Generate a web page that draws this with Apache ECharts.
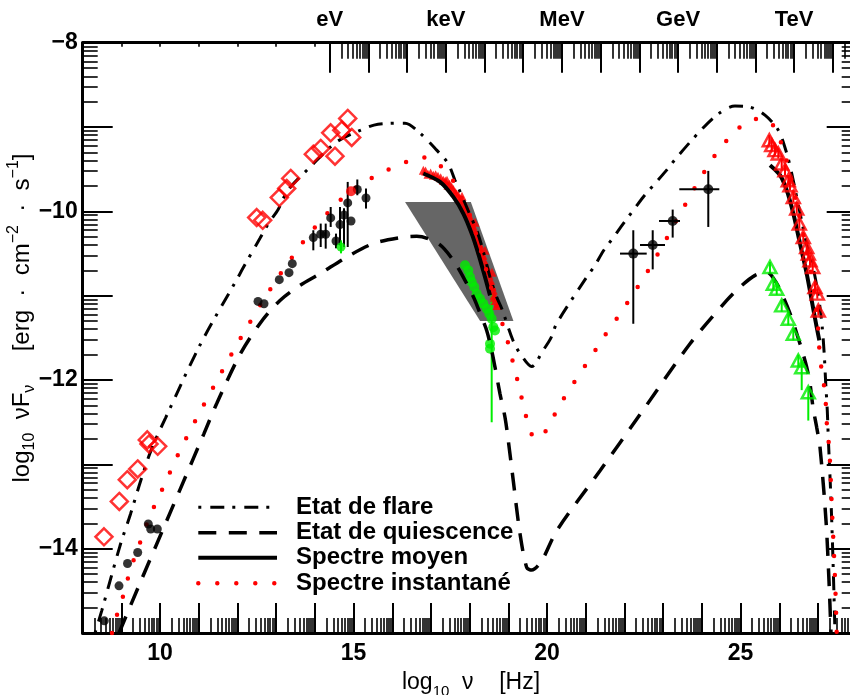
<!DOCTYPE html>
<html><head><meta charset="utf-8">
<script src="https://cdn.jsdelivr.net/npm/echarts@6/dist/echarts.min.js"></script>
<style>html,body{margin:0;padding:0;background:#fff}#c{width:850px;height:695px}</style>
</head><body><div id="c"></div>
<script>
// ---------- curves (log10 nu [Hz], log10 nuFnu) ----------
const flareCurve = [[8.318,-15.0],[8.491,-14.737],[8.964,-13.966],[9.240,-13.582],[9.499,-13.194],[9.783,-12.814],[10.145,-12.445],[11.031,-11.585],[11.979,-10.810],[12.150,-10.667],[12.581,-10.319],[12.788,-10.152],[13.054,-9.975],[13.305,-9.749],[13.873,-9.476],[14.563,-9.176],[15.243,-9.025],[15.630,-8.966],[16.328,-8.954],[16.716,-9.073],[17.147,-9.274],[17.439,-9.429],[17.620,-9.631],[17.793,-9.809],[17.956,-9.987],[18.181,-10.224],[18.344,-10.462],[18.525,-10.779],[18.698,-11.017],[18.827,-11.151],[19.119,-11.531],[19.300,-11.685],[19.602,-11.840],[19.894,-11.650],[20.093,-11.507],[20.248,-11.329],[20.979,-10.810],[21.238,-10.640],[21.452,-10.470],[21.711,-10.311],[21.969,-10.145],[22.227,-9.987],[22.486,-9.829],[22.788,-9.670],[23.072,-9.520],[23.349,-9.361],[23.951,-9.049],[24.416,-8.847],[24.855,-8.752],[25.243,-8.764],[25.630,-8.859],[25.974,-9.037],[26.191,-9.310],[26.320,-9.548],[26.483,-9.904],[26.612,-10.189],[26.742,-10.462],[26.871,-10.664],[26.974,-10.901],[27.052,-11.139],[27.110,-11.377],[27.160,-11.685],[27.200,-12.042],[27.240,-12.362],[27.266,-12.683],[27.336,-13.431],[27.388,-14.144],[27.439,-15.0]];
const quiescentCurve = [[8.938,-15.0],[9.506,-14.381],[10.049,-13.799],[10.592,-13.217],[11.134,-12.635],[11.463,-12.279],[12.065,-11.697],[12.581,-11.329],[13.098,-11.056],[13.614,-10.878],[14.132,-10.739],[14.822,-10.542],[15.509,-10.382],[16.199,-10.311],[16.630,-10.296],[17.189,-10.382],[17.576,-10.581],[17.879,-10.818],[18.137,-11.056],[18.266,-11.210],[18.439,-11.412],[18.568,-11.650],[18.654,-11.848],[18.783,-12.164],[18.912,-12.442],[18.997,-12.718],[19.126,-13.194],[19.300,-13.823],[19.473,-14.223],[19.602,-14.254],[19.860,-14.144],[20.248,-13.787],[21.367,-13.075],[22.400,-12.410],[23.693,-11.570],[24.641,-11.056],[24.984,-10.898],[25.372,-10.759],[25.674,-10.720],[25.933,-10.854],[26.103,-11.017],[26.276,-11.210],[26.450,-11.448],[26.612,-11.685],[26.708,-11.848],[26.793,-12.042],[26.871,-12.323],[26.966,-12.561],[27.052,-12.798],[27.207,-13.669],[27.284,-14.382],[27.336,-15.0]];
const meanXray = [[16.801,-9.551],[17.233,-9.651],[17.576,-9.829],[17.835,-10.026],[18.052,-10.264],[18.222,-10.501],[18.395,-10.779],[18.525,-10.996]];
const meanTeV = [[25.760,-9.452],[26.018,-9.571],[26.191,-9.749],[26.362,-10.026],[26.535,-10.382],[26.708,-10.739],[26.837,-11.056],[26.966,-11.373],[27.034,-11.531]];
const instantCurve = [[8.757,-15.0],[8.860,-14.824],[9.008,-14.619],[9.137,-14.401],[9.266,-14.203],[9.437,-13.986],[9.610,-13.767],[9.765,-13.582],[9.972,-13.380],[10.171,-13.182],[10.367,-12.980],[10.574,-12.778],[10.791,-12.588],[11.013,-12.394],[11.548,-11.941],[12.090,-11.495],[12.633,-11.080],[13.183,-10.691],[13.468,-10.510],[13.744,-10.335],[14.047,-10.165],[14.372,-9.999],[14.718,-9.841],[15.080,-9.710],[15.494,-9.599],[15.922,-9.500],[16.372,-9.413],[16.827,-9.361],[17.251,-9.464],[17.561,-9.631],[17.775,-9.821],[18.008,-10.046],[18.214,-10.343],[18.395,-10.640],[18.525,-10.854],[18.654,-11.076],[18.809,-11.282],[18.956,-11.499],[19.067,-11.701],[19.189,-11.919],[19.300,-12.133],[19.411,-12.342],[19.532,-12.561],[19.687,-12.690],[19.830,-12.680],[20.093,-12.501],[20.315,-12.303],[21.367,-11.563],[21.625,-11.380],[21.902,-11.207],[22.160,-11.020],[22.426,-10.838],[22.677,-10.652],[22.917,-10.462],[23.150,-10.272],[23.375,-10.078],[23.615,-9.884],[23.848,-9.694],[24.098,-9.504],[24.357,-9.322],[24.649,-9.156],[24.984,-9.001],[25.372,-8.906],[25.760,-8.938],[26.000,-9.135],[26.173,-9.369],[26.328,-9.654],[26.483,-9.987],[26.638,-10.308],[26.768,-10.604],[26.897,-10.937],[26.987,-11.293],[27.052,-11.729],[27.181,-12.160],[27.240,-12.599],[27.292,-12.814],[27.362,-13.550],[27.439,-14.346],[27.483,-15.0]];
const xrayBowtie = [[16.33,-9.888],[18.03,-9.888],[19.13,-11.30],[18.27,-11.30]];

// ---------- data points ----------
const flareDiamonds = [[8.550,-13.859],[8.946,-13.440],[9.152,-13.182],[9.421,-13.055],[9.669,-12.710],[9.713,-12.758],[9.938,-12.786],[12.496,-10.074],[12.651,-10.106],[13.080,-9.836],[13.271,-9.729],[13.375,-9.610],[13.959,-9.322],[14.150,-9.254],[14.408,-9.069],[14.519,-9.346],[14.693,-9.037],[14.848,-8.898],[14.951,-9.124]];
const blackPoints = [[8.558,-14.856],[8.938,-14.441],[9.158,-14.176],[9.421,-14.045],[9.695,-13.708],[9.757,-13.767],[9.928,-13.767],[12.530,-11.068],[12.685,-11.095],[13.080,-10.810],[13.331,-10.727],[13.416,-10.620],[13.959,-10.311],[14.150,-10.272],[14.279,-10.272],[14.408,-10.078],[14.545,-10.352],[14.649,-10.157],[14.752,-10.043],[14.848,-9.900],[14.933,-10.114],[15.096,-9.741],[15.320,-9.841]];
const blackYErr = [[13.959,-10.224,-10.462],[14.150,-10.145,-10.423],[14.279,-10.145,-10.442],[14.408,-9.948,-10.185],[14.545,-10.264,-10.438],[14.649,-9.948,-10.403],[14.752,-9.963,-10.423],[14.848,-9.651,-10.423],[15.096,-9.622,-9.809],[15.320,-9.729,-9.967]];
const gevPoints = [[22.227,-10.501],[22.729,-10.399],[23.245,-10.114],[24.165,-9.738]];
const gevYErr = [[22.227,-10.224,-11.333],[22.729,-10.224,-10.688],[23.245,-9.979,-10.311],[24.165,-9.520,-10.185]];
const gevXErr = [[-10.501,21.884,22.574],[-10.399,22.400,23.047],[-10.114,22.892,23.434],[-9.738,23.416,24.450]];
const redOpticalPoint = [[14.933,-9.761]];
const greenOpticalPoint = [[14.674,-10.423]];
const greenOpticalYErr = [[14.674,-10.343,-10.498]];
const xrayRed = [[16.801,-9.512],[17.060,-9.571],[17.318,-9.631],[17.535,-9.710],[17.705,-9.809],[17.835,-9.907],[17.938,-10.007],[18.026,-10.106],[18.111,-10.224],[18.196,-10.343],[18.284,-10.462],[18.370,-10.581],[18.455,-10.700],[18.543,-10.818],[18.610,-10.937],[18.661,-11.056],[16.923,-9.560],[17.181,-9.584],[17.439,-9.690],[17.620,-9.773],[17.775,-9.868],[17.904,-9.939],[17.982,-10.046],[18.085,-10.177],[18.163,-10.296],[18.266,-10.403],[18.344,-10.521],[18.421,-10.640],[18.499,-10.759],[18.576,-10.890],[18.628,-10.996],[18.705,-11.115],[17.413,-9.631],[17.801,-9.821],[18.137,-10.129],[18.395,-10.462],[18.576,-10.723],[16.860,-9.520],[16.990,-9.545],[17.120,-9.566],[17.250,-9.600],[17.370,-9.640],[17.480,-9.680],[17.580,-9.740],[17.660,-9.790],[17.740,-9.850],[17.870,-9.960],[18.060,-10.150],[18.230,-10.380],[18.320,-10.520],[18.480,-10.700],[18.560,-10.870],[18.640,-11.020]];
const xrayGreen = [[17.879,-10.640],[17.964,-10.700],[18.008,-10.779],[18.052,-10.838],[18.119,-10.898],[18.181,-10.976],[18.266,-11.036],[18.351,-11.095],[18.439,-11.154],[18.506,-11.214],[18.568,-11.273],[18.610,-11.373],[18.654,-11.412],[18.525,-11.570],[18.525,-11.629]];
const xrayGreenYErr = [[18.568,-10.973,-12.501]];
const tevRed = [[25.742,-9.156],[25.804,-9.215],[25.889,-9.274],[25.974,-9.314],[26.062,-9.432],[26.147,-9.512],[26.232,-9.631],[26.276,-9.690],[26.362,-9.829],[26.450,-9.967],[26.517,-10.145],[26.620,-10.304],[26.708,-10.423],[26.749,-10.501],[26.793,-10.581],[26.863,-10.660],[26.922,-10.898],[26.982,-10.976],[27.008,-11.175]];
const tevRedYErr = tevRed.map(p => [p[0], p[1] + 0.06, p[1] - 0.06]);
const tevGreen = [[25.760,-10.660],[25.845,-10.858],[25.933,-10.917],[26.062,-11.115],[26.232,-11.273],[26.362,-11.451],[26.491,-11.768],[26.579,-11.848],[26.749,-12.145]];
const tevGreenYErr = [[25.760,-10.600,-10.720],[25.845,-10.790,-10.930],[25.933,-10.850,-10.990],[26.062,-11.050,-11.190],[26.232,-11.200,-11.350],[26.362,-11.380,-11.530],[26.491,-11.700,-11.840],[26.579,-11.780,-12.120],[26.749,-12.080,-12.481]];

// ---------- axes: ticks & labels ----------
const xLabelValues = [10, 15, 20, 25];
const yLabelValues = [-14, -12, -10, -8];
const EV = Math.log10(2.418e14);
const energyLabels = ['eV', 'keV', 'MeV', 'GeV', 'TeV'];
const energyLabelValues = energyLabels.map((_, i) => EV + 3 * i);
const legendNames = ['Etat de flare', 'Etat de quiescence', 'Spectre moyen', 'Spectre instantané'];
const xMinorTicks = [];
for (let n = 8; n < 28; n++) for (let k = 2; k <= 9; k++) xMinorTicks.push(n + Math.log10(k));
const yMinorTicks = [];
for (let m = -15; m < -8; m++) for (let k = 2; k <= 9; k++) yMinorTicks.push(m + Math.log10(k));
const energyMajorTicks = [];
for (let v = EV; v <= 28; v += 1) energyMajorTicks.push(v);
const energyMinorTicks = [];
for (let n = EV; n < 28; n += 1) for (let k = 2; k <= 9; k++) { const v = n + Math.log10(k); if (v <= 28) energyMinorTicks.push(v); }
const topSmallTicks = [9, 10, 11, 12, 13, 14];

const FONT = 'Liberation Sans';
function baseX(pos, extra) {
  return Object.assign({type: 'value', position: pos, min: 8, max: 28, interval: 1,
    axisLine: {show: false, onZero: false}, splitLine: {show: false}, axisLabel: {show: false},
    axisTick: {show: false}}, extra);
}
function baseY(pos, extra) {
  return Object.assign({type: 'value', position: pos, min: -15, max: -8, interval: 1,
    axisLine: {show: false, onZero: false}, splitLine: {show: false}, axisLabel: {show: false},
    axisTick: {show: false}}, extra);
}
const lineAx = {show: true, onZero: false, lineStyle: {color: '#000', width: 3}};
function ticks(len, vals, w) {
  const t = {show: true, inside: true, length: len, lineStyle: {color: '#000', width: w}};
  if (vals) t.customValues = vals;
  return t;
}
function vErr(color) {
  return function (params, api) {
    const a = api.coord([api.value(0), api.value(1)]);
    const b = api.coord([api.value(0), api.value(2)]);
    return {type: 'line', shape: {x1: a[0], y1: a[1], x2: b[0], y2: b[1]}, style: {stroke: color, lineWidth: 2}};
  };
}
function hErr(color) {
  return function (params, api) {
    const a = api.coord([api.value(1), api.value(0)]);
    const b = api.coord([api.value(2), api.value(0)]);
    return {type: 'line', shape: {x1: a[0], y1: a[1], x2: b[0], y2: b[1]}, style: {stroke: color, lineWidth: 2}};
  };
}

const RED = '#ff0000', GREEN = '#00ee00';
const STYLES = {
  flare: {color: '#000', width: 3, type: [3, 9, 14, 8], cap: 'butt'},
  quiet: {color: '#000', width: 3.5, type: [18, 12.5], cap: 'butt'},
  mean: {color: '#000', width: 4, type: 'solid', cap: 'butt'},
  inst: {color: RED, width: 4.5, type: [0, 19], cap: 'round'}
};
const legendStyles = [STYLES.flare, STYLES.quiet, STYLES.mean, STYLES.inst];
const legendRows = [507.3, 532.7, 557.7, 583.3];

const legendGraphics = [];
legendNames.forEach((name, i) => {
  const s = legendStyles[i];
  legendGraphics.push({type: 'line', silent: true, z: 100,
    shape: {x1: 198.3, y1: legendRows[i], x2: 277, y2: legendRows[i]},
    style: {stroke: s.color, lineWidth: s.width, lineDash: Array.isArray(s.type) ? s.type : null, lineCap: s.cap}});
  legendGraphics.push({type: 'text', silent: true, z: 100, x: 296, y: legendRows[i],
    style: {text: name, fill: '#000', font: 'bold 24px "Liberation Sans"', align: 'left', verticalAlign: 'middle'}});
});

const chart = echarts.init(document.getElementById('c'), null, {renderer: 'canvas'});
chart.setOption({
  animation: false,
  backgroundColor: '#fff',
  textStyle: {fontFamily: FONT},
  grid: {left: 82.7, top: 42.7, width: 774, height: 590.3, outerBoundsMode: 'none'},
  xAxis: [
    baseX('bottom', {axisLine: lineAx, axisTick: ticks(30, null, 2),
      axisLabel: {show: true, customValues: xLabelValues, fontSize: 23, fontWeight: 'bold', color: '#000', margin: 9, fontFamily: FONT}}),
    baseX('bottom', {axisTick: ticks(15, xMinorTicks, 1.6)}),
    baseX('top', {axisLine: lineAx, axisTick: ticks(30, energyMajorTicks, 2),
      axisLabel: {show: true, customValues: energyLabelValues, fontSize: 22, fontWeight: 'bold', color: '#000', margin: 12, fontFamily: FONT,
        formatter: v => { const i = energyLabelValues.findIndex(e => Math.abs(e - v) < 1e-6); return i >= 0 ? energyLabels[i] : ''; }}}),
    baseX('top', {axisTick: ticks(16, energyMinorTicks, 1.6)}),
    baseX('top', {axisTick: ticks(4, topSmallTicks, 1.6)})
  ],
  yAxis: [
    baseY('left', {axisLine: lineAx, axisTick: ticks(30, null, 2),
      axisLabel: {show: true, customValues: yLabelValues, fontSize: 23, fontWeight: 'bold', color: '#000', margin: 5, fontFamily: FONT,
        formatter: v => String(v).replace('-', '\u2212')}}),
    baseY('left', {axisTick: ticks(15, yMinorTicks, 1.6)}),
    baseY('right', {axisLine: lineAx, axisTick: ticks(30, null, 2)}),
    baseY('right', {axisTick: ticks(15, yMinorTicks, 1.6)})
  ],
  graphic: legendGraphics.concat([
    {type: 'text', x: 471, y: 683, silent: true,
      style: {text: '{n|log}{s|10}{n|  \u03bd    [Hz]}', align: 'center', verticalAlign: 'middle',
        rich: {n: {fontSize: 23, fontFamily: FONT, fill: '#000', lineHeight: 32},
               s: {fontSize: 15, fontFamily: FONT, fill: '#000', lineHeight: 14, verticalAlign: 'bottom'}}}},
    {type: 'text', x: 22, y: 318, rotation: Math.PI / 2, silent: true,
      style: {text: '{n|log}{s|10}{n|  \u03bdF}{s|\u03bd}{n|     [erg  \u00b7  cm}{p|\u22122}{n|  \u00b7  s}{p|\u22121}{n|]}', align: 'center', verticalAlign: 'middle',
        rich: {n: {fontSize: 24, fontFamily: FONT, fill: '#000', lineHeight: 32},
               s: {fontSize: 16, fontFamily: FONT, fill: '#000', lineHeight: 14, verticalAlign: 'bottom'},
               p: {fontSize: 16, fontFamily: FONT, fill: '#000', lineHeight: 14, verticalAlign: 'top'}}}}
  ]),
  series: [
    {type: 'custom', name: 'bowtie', z: 1, silent: true, data: xrayBowtie,
      renderItem: (params, api) => {
        if (params.dataIndex !== 0) return null;
        return {type: 'polygon', shape: {points: xrayBowtie.map(p => api.coord(p))}, style: {fill: '#666666'}};
      }},
    {type: 'line', name: legendNames[1], data: quiescentCurve, smooth: 0.3, symbol: 'none', z: 3, silent: true, lineStyle: STYLES.quiet},
    {type: 'line', name: legendNames[0], data: flareCurve, smooth: 0.3, symbol: 'none', z: 3, silent: true, lineStyle: STYLES.flare},
    {type: 'line', name: legendNames[2], data: meanXray, smooth: 0.3, symbol: 'none', z: 3, silent: true, lineStyle: STYLES.mean},
    {type: 'line', name: legendNames[2], data: meanTeV, smooth: 0.3, symbol: 'none', z: 3, silent: true, lineStyle: STYLES.mean},
    {type: 'line', name: legendNames[3], data: instantCurve, smooth: 0.3, symbol: 'none', z: 4, silent: true, lineStyle: STYLES.inst},
    {type: 'scatter', name: 'xrayRed', data: xrayRed, symbol: 'triangle', symbolSize: 9, z: 2, silent: true, itemStyle: {color: RED}},
    {type: 'scatter', name: 'xrayGreen', data: xrayGreen, symbol: 'circle', symbolSize: 10, z: 2, silent: true, itemStyle: {color: GREEN}},
    {type: 'custom', name: 'xrayGreenErr', data: xrayGreenYErr, renderItem: vErr(GREEN), z: 2, silent: true},
    {type: 'scatter', name: 'diamonds', data: flareDiamonds, symbol: 'diamond', symbolSize: 17, z: 5, silent: true,
      itemStyle: {color: 'rgba(0,0,0,0)', borderColor: RED, borderWidth: 2.5}},
    {type: 'custom', name: 'blackErr', data: blackYErr, renderItem: vErr('#000'), z: 5, silent: true},
    {type: 'scatter', name: 'black', data: blackPoints, symbol: 'circle', symbolSize: 9, z: 5, silent: true, itemStyle: {color: '#000'}},
    {type: 'scatter', name: 'redOpt', data: redOpticalPoint, symbol: 'circle', symbolSize: 10, z: 5, silent: true, itemStyle: {color: RED}},
    {type: 'custom', name: 'greenOptErr', data: greenOpticalYErr, renderItem: vErr(GREEN), z: 5, silent: true},
    {type: 'scatter', name: 'greenOpt', data: greenOpticalPoint, symbol: 'circle', symbolSize: 9, z: 5, silent: true, itemStyle: {color: GREEN}},
    {type: 'custom', name: 'gevYErr', data: gevYErr, renderItem: vErr('#000'), z: 5, silent: true},
    {type: 'custom', name: 'gevXErr', data: gevXErr, renderItem: hErr('#000'), z: 5, silent: true},
    {type: 'scatter', name: 'gev', data: gevPoints, symbol: 'circle', symbolSize: 10, z: 5, silent: true, itemStyle: {color: '#000'}},
    {type: 'custom', name: 'tevRedErr', data: tevRedYErr, renderItem: vErr(RED), z: 5, silent: true},
    {type: 'scatter', name: 'tevRed', data: tevRed, symbol: 'triangle', symbolSize: [13, 12], z: 5, silent: true,
      itemStyle: {color: 'rgba(0,0,0,0)', borderColor: RED, borderWidth: 2.5}},
    {type: 'custom', name: 'tevGreenErr', data: tevGreenYErr, renderItem: vErr(GREEN), z: 5, silent: true},
    {type: 'scatter', name: 'tevGreen', data: tevGreen, symbol: 'triangle', symbolSize: [13, 12], z: 5, silent: true,
      itemStyle: {color: 'rgba(0,0,0,0)', borderColor: GREEN, borderWidth: 2.5}}
  ]
});
</script></body></html>
